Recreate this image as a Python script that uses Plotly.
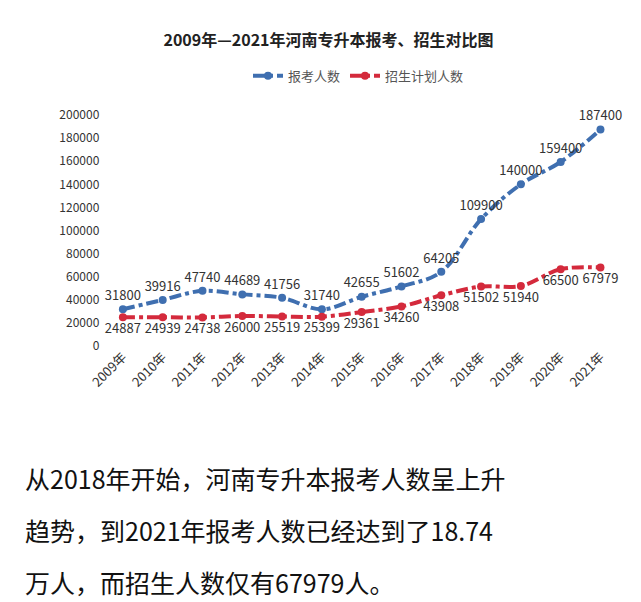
import plotly.graph_objects as go

years = ["2009年", "2010年", "2011年", "2012年", "2013年", "2014年", "2015年",
         "2016年", "2017年", "2018年", "2019年", "2020年", "2021年"]
applicants = [31800, 39916, 47740, 44689, 41756, 31740, 42655, 51602, 64205,
              109900, 140000, 159400, 187400]
enrollment = [24887, 24939, 24738, 26000, 25519, 25399, 29361, 34260, 43908,
              51502, 51940, 66500, 67979]

font = "Noto Sans CJK SC"

fig = go.Figure()
fig.add_trace(go.Scatter(
    x=years, y=applicants, name="报考人数", mode="lines+markers+text",
    line=dict(color="#3f6fb0", width=4, dash="dashdot", shape="spline"),
    marker=dict(size=8, color="#3f6fb0"), cliponaxis=False,
    text=[str(v) for v in applicants], textposition="top center",
    textfont=dict(size=13, color="#333")))
fig.add_trace(go.Scatter(
    x=years, y=enrollment, name="招生计划人数", mode="lines+markers+text",
    line=dict(color="#d42a3c", width=4, dash="dashdot", shape="spline"),
    marker=dict(size=8, color="#d42a3c"), cliponaxis=False,
    text=[str(v) for v in enrollment], textposition="bottom center",
    textfont=dict(size=13, color="#333")))

fig.update_layout(
    width=641, height=602, plot_bgcolor="white", paper_bgcolor="white",
    margin=dict(l=95, r=35, t=107, b=264),
    font=dict(family=font, color="#333"),
    title=dict(text="<b>2009年—2021年河南专升本报考、招生对比图</b>", x=0.5, y=0.955,
               xanchor="center", font=dict(size=16, color="#222")),
    legend=dict(orientation="h", x=0.5, xanchor="center", y=1.17, yanchor="middle",
                font=dict(size=13, color="#555")),
    showlegend=True,
)
fig.update_xaxes(range=[-0.5, 12.34], tickangle=-45, showgrid=False,
                 tickfont=dict(size=13, color="#333"))
fig.update_yaxes(range=[0, 200000], dtick=20000, showgrid=False, zeroline=False,
                 tickformat="d", tickfont=dict(size=12, color="#333"), ticksuffix=" ")

lines = ["从2018年开始，河南专升本报考人数呈上升",
         "趋势，到2021年报考人数已经达到了18.74",
         "万人，而招生人数仅有67979人。"]
for i, t in enumerate(lines):
    fig.add_annotation(text=t, xref="paper", yref="paper", x=-80/511, xanchor="left",
                       y=-(470 + 52 * i - 338) / 231, yanchor="middle", showarrow=False,
                       font=dict(size=25, color="#111", family=font))

fig.write_html("out.html")
